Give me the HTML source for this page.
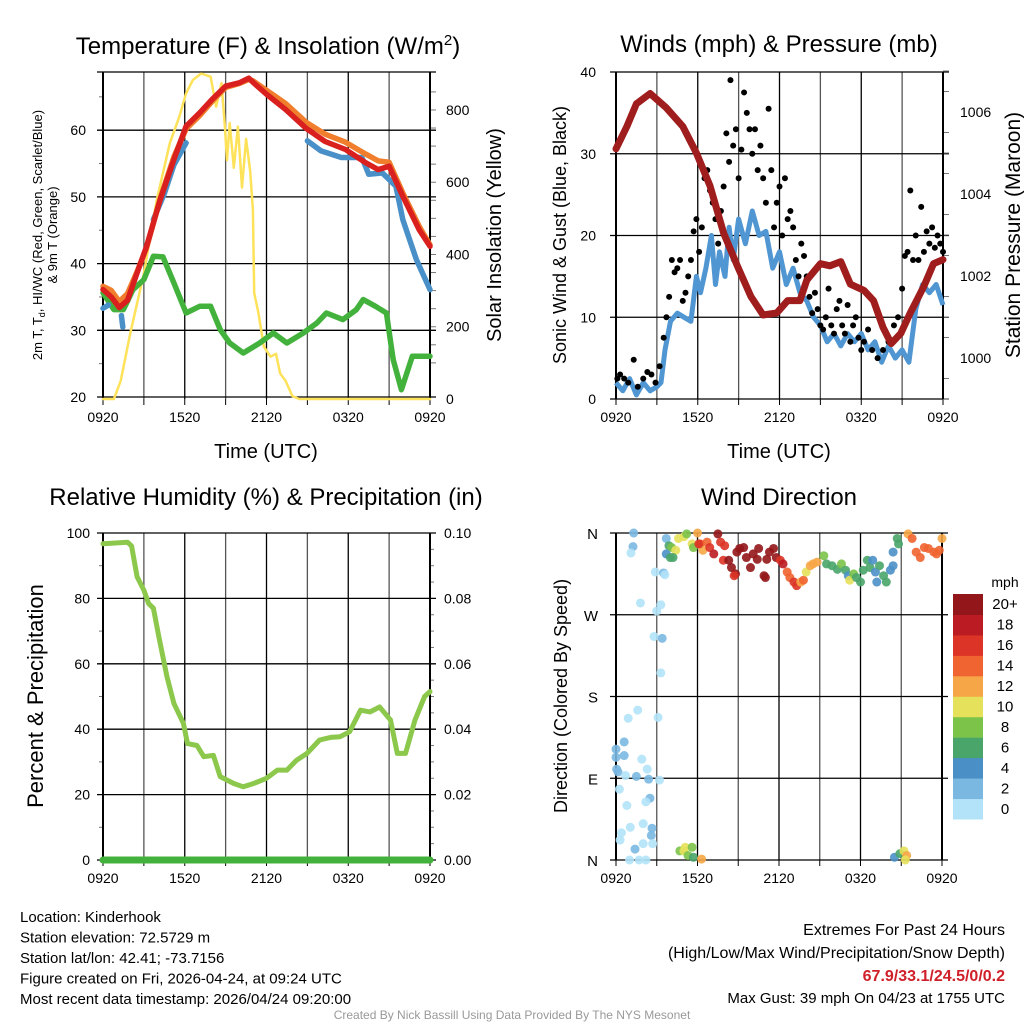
<!DOCTYPE html>
<html><head><meta charset="utf-8"><style>
body{margin:0;background:#fff}
svg{display:block;font-family:"Liberation Sans",Arial,sans-serif}
</style></head><body>
<svg id="c" width="1024" height="1024" viewBox="0 0 1024 1024" xmlns="http://www.w3.org/2000/svg">
<rect width="1024" height="1024" fill="#fff"/>
</svg>
<script>
// ---------- DATA ----------
const xTickLabels = ["0920","1520","2120","0320","0920"];
const tempTicks = [20,30,40,50,60];
const solarTicks = [0,200,400,600,800];
const windTicks = [0,10,20,30,40];
const presTicks = [1000,1002,1004,1006];
const rhTicks = [0,20,40,60,80,100];
const precipTicks = ["0.00","0.02","0.04","0.06","0.08","0.10"];
const dirLabels = ["N","E","S","W","N"];
const speedBinLabels = ["0","2","4","6","8","10","12","14","16","18","20+"];
const speedColors = ["#b3e3f8","#7ab8e2","#4a90c6","#4aa56a","#7cc34a","#e5e15a","#f6a646","#ef6430","#dc3426","#bb1b22","#93161a"];

const redHours = [0,0.6,1.2,1.8,2.5,3.2,4.2,5.2,6.1,7.1,8,9,10,10.7,11,12,13.4,14.9,16.3,17.8,19.3,20.2,21,22,23.2,24];
const redTemps = [36.1,35,33.4,34.5,38.6,42.6,49.6,55.6,60.6,62.6,64.6,66.6,67.1,67.8,67.2,65.4,63.1,60.3,58.3,57.1,55.1,54.1,54.6,50.1,45.1,42.6];
const orangeHours = [0,0.6,1.2,1.8,2.5,3.2,4.2,5.2,6.1,7.1,8,9,10,10.7,11,12,13.4,14.9,16.3,17.8,19.3,20.2,21,22,23.2,24];
const orangeTemps = [36.6,36,34.3,35.5,38.8,42.4,49.8,56,60.2,62.2,64.3,66.4,67,67.6,67.4,66,64,61.2,59.4,58.2,56.4,55.4,55.2,50.6,45.6,42.8];
const blueHours = [0,0.4,0.5,1.35,1.45,1.5,3.7,4.5,5.2,6.1,6.2,15,16,17.5,19,19.5,20.5,21.5,22,23,24];
const blueTemps = [33.3,33.8,null,32.2,30.5,null,46.6,50.5,54.8,58.1,null,58.4,56.9,55.9,55.9,53.4,53.6,51.6,46.6,40.6,36.1];
const greenHours = [0,0.8,1.5,2.2,3,3.7,4.4,5.2,6.1,7.1,7.9,8.6,9.3,10.3,11.5,12.5,13.5,14.7,15.7,16.4,17.6,18.6,19.1,20,20.8,21.3,21.9,22.7,24];
const greenTemps = [35.6,33.1,33.1,36.1,37.6,41.1,41,37.1,32.6,33.6,33.6,30.1,28.1,26.6,28.1,29.6,28.1,29.6,31.1,32.6,31.6,33.1,34.6,33.6,32.6,25.6,21.1,26.1,26.1];
const solarHours = [0,0.8,1.3,2.0,3.0,3.95,4.9,5.6,6.1,6.6,7.2,7.9,8.3,8.7,8.95,9.1,9.3,9.6,9.9,10.2,10.5,10.8,11.0,11.1,11.4,11.8,12.3,12.7,13.0,13.4,13.9,14.4,24];
const solarWatts = [0,0,50,182,348,551,708,781,846,883,901,892,809,874,754,661,764,640,754,585,720,630,523,293,240,145,117,125,71,50,8,0,0];

const windHours = [0,0.5,1,1.5,2,2.5,3,3.3,3.6,4,4.5,5,5.5,5.9,6.2,6.6,7,7.3,7.6,8,8.3,8.6,9,9.5,10,10.5,11,11.5,12,12.5,13,13.5,14,14.5,15,15.5,16,16.5,17,17.5,18,18.5,19,19.5,20,20.5,21,21.5,22,22.5,23,23.5,24];
const windSpeeds = [2,1,2.5,0.5,2,1,1.5,2,6,9.5,10.5,10,9.5,15,13,16,20,14,18,15,21,17,22,19,23,20,20.5,16,18,14,16,13,12,10,9,7,8,6.5,8,7,8,6,7,4.5,6.5,5,6,4.5,11,14,13,14,11.5];
const gustHours = [0.1,0.3,0.6,0.9,1.3,1.6,2.0,2.3,2.6,2.9,3.2,3.5,3.7,3.9,4.1,4.3,4.5,4.7,4.9,5.1,5.3,5.5,5.7,5.9,6.1,6.3,6.5,6.7,6.9,7.1,7.3,7.5,7.7,7.9,8.1,8.3,8.4,8.6,8.8,9.0,9.2,9.4,9.6,9.8,10.0,10.2,10.4,10.6,10.8,11.0,11.2,11.4,11.6,11.8,12.0,12.2,12.4,12.6,12.8,13.0,13.2,13.4,13.6,13.8,14.0,14.2,14.4,14.6,14.8,15.0,15.2,15.4,15.6,15.8,16.0,16.2,16.4,16.6,16.8,17.0,17.2,17.4,17.6,17.8,18.0,18.2,18.5,18.8,19.2,19.6,20.0,20.4,20.7,21.0,21.2,21.4,21.6,21.8,22.0,22.2,22.4,22.6,22.8,23.0,23.2,23.4,23.6,23.8,24.0];
const gustSpeeds = [2.5,3,2.5,2,4.8,1.5,2.5,3.3,3,2,4,7.5,10,12.5,17,15.5,16,17,12,13,15,17,20.5,22,18,21,27,28,25.5,24,22,19,23,26,32.5,29,39,31,33,27,30.5,37.5,35,33,30,33,28,31,27,24,35.5,28,21,24,26,20,27,22,23,21,17,15,19,17.5,15,12.5,10.5,13,11,9,8.5,10,13.5,9,8,11,12,9,8,11.5,7,9,10,7.5,6,7,8.5,6,5,6,7,9,10,13.5,17.5,18,25.5,17,20,17,23.5,18,20.5,19,21,18.5,20,19,18];
const presHours = [0,0.8,1.5,2.5,3.7,4.9,5.9,6.9,7.9,8.9,9.9,10.8,11.8,12.6,13.5,14.0,15.0,15.7,16.5,17.2,18.2,18.9,19.6,20.2,20.9,21.6,22.6,23.3,24];
const presMb = [1005.1,1005.65,1006.2,1006.45,1006.1,1005.65,1005.0,1004.2,1003.05,1002.25,1001.5,1001.05,1001.1,1001.4,1001.4,1001.9,1002.3,1002.25,1002.35,1001.8,1001.65,1001.4,1000.75,1000.35,1000.6,1001.1,1001.75,1002.3,1002.4];

const rhHours = [0,1.8,2.1,2.5,3.0,3.35,3.7,4.1,4.7,5.2,5.9,6.2,6.9,7.4,8.1,8.6,9.6,10.3,11.05,12.0,12.8,13.5,14.2,14.97,15.9,16.7,17.4,18.1,18.9,19.6,20.3,21.1,21.6,22.2,22.9,23.6,24];
const rhValues = [96.7,97.2,96,86.6,82.5,78.4,77,68.2,56,47.9,41.8,35.6,35,31.6,32,25.5,23.4,22.4,23.4,25,27.5,27.5,30.5,32.6,36.7,37.5,37.7,39.2,45.8,45.3,46.8,42.8,32.6,32.6,42.8,50,51.5];
const precipHours = [0,24];
const precipValues = [0,0];

const dirHours = [1.3,1.25,1.1,2.9,3.5,3.6,1.8,3.0,3.3,2.8,3.4,3.3,1.6,0.9,3.1,0.6,0,0,0.6,1.9,0.05,0.15,2.3,0.7,1.5,2.4,3.2,0.25,2.5,2.2,0.8,2.0,1.05,2.65,0.4,0.3,2.6,2.0,1.4,2.7,1.0,1.7,2.2,
3.7,3.9,4.1,4.4,3.7,4.0,4.2,4.6,5.0,5.2,5.6,5.7,6.0,6.2,6.4,
6.1,6.7,6.9,7.2,7.5,7.7,8.0,7.9,8.3,8.5,8.8,8.7,8.9,9.1,9.4,9.6,9.9,10.1,10.4,10.5,10.9,11.0,11.1,11.3,11.6,11.8,12.1,12.3,12.6,12.8,13.1,13.3,13.6,13.8,14.0,14.3,14.5,14.8,
15.3,15.5,15.9,16.3,16.6,16.9,17.1,17.2,17.5,17.7,18.0,18.2,18.5,18.7,18.9,19.1,19.2,19.4,19.7,19.9,20.2,20.4,20.4,20.7,20.8,
21.5,21.8,22.1,22.4,22.7,23.0,23.4,23.6,23.8,24.0,
4.7,5.0,5.1,5.3,5.6,5.7,6.3,20.5,20.9,21.2,21.4,21.3];
const dirDegrees = [360,345,338,317,316,314,283,274,281,246,244,206,165,156,157,130,122,113,115,111,100,97,100,93,92,89,88,78,68,64,60,40,36,35,30,22,27,18,12,18,0,0,0,
354,346,344,341,337,333,333,354,356,359,348,344,360,348,341,
348,350,344,337,359,350,346,330,330,322,315,313,339,343,344,333,322,337,331,343,313,311,331,339,343,333,330,326,317,311,306,302,306,308,317,324,326,328,
335,326,324,320,326,319,313,308,315,311,306,319,330,322,330,317,306,324,313,306,319,324,339,354,348,
359,354,339,333,344,343,339,337,341,354,
10,10,14,5,14,3,1,3,7,10,5,0];
const dirSpeeds = [2,3,1,1,3,1,1,1,1,1,3,1,1,1,1,2,3,3,3,1,3,3,1,1,3,3,0,1,3,1,1,1,1,3,1,1,3,1,3,1,1,1,1,
3,7,8,10,4,6,7,10,10,8,10,8,13,14,13,
16,15,17,18,20,17,16,17,20,20,20,16,20,20,20,20,20,20,20,20,20,20,20,20,20,20,16,18,15,14,16,16,13,14,11,12,13,12,
8,7,6,7,8,6,5,11,8,6,7,6,6,6,4,4,4,6,6,6,4,4,4,6,6,
13,14,14,15,14,15,15,14,14,13,
8,10,11,8,8,6,13,4,6,10,13,10];

// ---------- HELPERS ----------
const svg = document.getElementById('c');
const NS = "http://www.w3.org/2000/svg";
function mk(tag, attrs, parent){
  const e = document.createElementNS(NS, tag);
  for (const k in attrs) e.setAttribute(k, attrs[k]);
  (parent||svg).appendChild(e);
  return e;
}
function txt(x,y,s,size,anchor,extra,parent){
  const t = mk('text',{x:x,y:y,'font-size':size,'text-anchor':anchor||'middle',fill:'#000'},parent);
  if (extra) for (const k in extra) t.setAttribute(k, extra[k]);
  t.textContent = s;
  return t;
}
function pathFrom(xs, ys, fx, fy){
  let d = '', pen = false;
  for (let i=0;i<xs.length;i++){
    if (ys[i]===null){pen=false;continue;}
    d += (pen?'L':'M') + fx(xs[i]).toFixed(1) + ',' + fy(ys[i]).toFixed(1);
    pen = true;
  }
  return d;
}
function panelFrame(g, x0, x1, y0, y1, hLines, hMinor){
  for (let i=0;i<=8;i++){
    const x = x0 + (x1-x0)*i/8;
    const l = mk('line',{x1:x,y1:y0,x2:x,y2:y1,stroke:(i%2?'#555':'#000'),'stroke-width':1.3},g);
    
    
    mk('line',{x1:x,y1:y1,x2:x,y2:y1+6,stroke:'#000','stroke-width':1},g);
  }
  hLines.forEach(y=>{
    const l = mk('line',{x1:x0-6,y1:y,x2:x1+6,y2:y,stroke:'#000','stroke-width':1.3},g);
    
    
  });
  (hMinor||[]).forEach(m=>{
    mk('line',{x1:m[0],y1:m[1],x2:m[0]+m[2],y2:m[1],stroke:'#777','stroke-width':1},g);
  });
  mk('line',{x1:x0,y1:y0,x2:x0,y2:y1,stroke:'#000','stroke-width':2},g);
  mk('line',{x1:x1,y1:y0,x2:x1,y2:y1,stroke:'#000','stroke-width':2},g);
  xTickLabels.forEach((s,i)=>{
    const t = txt(x0+(x1-x0)*i/4, y1+23, s, 14);
    
    
  });
}

// ---------- PANEL 1: TEMPERATURE ----------
(function(){
  const g = mk('g',{});
  
  
  const x0=103,x1=430,y0=72,y1=399;
  const X = h => x0 + h*(x1-x0)/24;
  const YT = t => 397 - (t-20)*6.67;
  const YS = w => 399 - w*0.3613;
  const minors=[];
  for(let t=25;t<70;t+=10) minors.push([x0-4,YT(t),4]);
  for(let w=100;w<900;w+=50) minors.push([x1,YS(w),6]);
  panelFrame(g,x0,x1,y0,y1,tempTicks.map(YT).concat([y0]),minors);
  tempTicks.forEach(t=>{const e=txt(x0-17,YT(t)+5,String(t),14,'end',null,g);});
  solarTicks.forEach(w=>{const e=txt(x1+16,YS(w)+5,String(w),14,'start',null,g);});
  const series = [
    [solarHours,solarWatts,YS,'#fde25a',2.5,'solar-insolation-line'],
    [greenHours,greenTemps,YT,'#43b23c',5.5,'dewpoint-line'],
    [blueHours,blueTemps,YT,'#4a90c8',5.5,'windchill-line'],
    [orangeHours,orangeTemps,YT,'#f07e2c',5.5,'temp-9m-line'],
    [redHours,redTemps,YT,'#d9201f',5.5,'temp-2m-line']
  ];
  series.forEach(s=>{
    const p = mk('path',{d:pathFrom(s[0],s[1],X,s[2]),fill:'none',stroke:s[3],'stroke-width':s[4],'stroke-linejoin':'round','stroke-linecap':'round'},g);
    
    
  });
  const t1=txt(268,54,'',24,'middle',null,g);
  t1.innerHTML='Temperature (F) &amp; Insolation (W/m<tspan dy="-9" font-size="15">2</tspan><tspan dy="9">)</tspan>';
  
  
  const xl=txt(266,458,'Time (UTC)',20,'middle',null,g);
  
  
  const yl=txt(0,0,'',13,'middle',{transform:'translate(42,235) rotate(-90)'},g);
  yl.innerHTML='2m T, T<tspan dy="3" font-size="9">d</tspan><tspan dy="-3">, HI/WC (Red, Green, Scarlet/Blue)</tspan>';
  
  
  const yl2=txt(0,0,'& 9m T (Orange)',13,'middle',{transform:'translate(57,235) rotate(-90)'},g);
  
  
  const yr=txt(0,0,'Solar Insolation (Yellow)',20,'middle',{transform:'translate(501,235) rotate(-90)'},g);
  
  
})();

// ---------- PANEL 2: WINDS ----------
(function(){
  const g = mk('g',{});
  
  
  const x0=616,x1=943,y0=72,y1=399;
  const X = h => x0 + h*(x1-x0)/24;
  const YW = s => 399 - s*8.175;
  const YP = p => 358 - (p-1000)*41;
  const minors=[];
  for(let p=999;p<=1007;p+=0.5) if(p%2!==0) minors.push([x1,YP(p),6]);
  panelFrame(g,x0,x1,y0,y1,windTicks.map(YW),minors);
  windTicks.forEach(s=>{const e=txt(x0-20,YW(s)+5,String(s),14,'end',null,g);});
  presTicks.forEach(p=>{const e=txt(x1+17,YP(p)+5,String(p),14,'start',null,g);});
  const w = mk('path',{d:pathFrom(windHours,windSpeeds,X,YW),fill:'none',stroke:'#4f96d2','stroke-width':5,'stroke-linejoin':'round'},g);
  
  
  gustHours.forEach((h,i)=>{
    const c = mk('circle',{cx:X(h),cy:YW(gustSpeeds[i]),r:3,fill:'#000'},g);
    
    
  });
  const p = mk('path',{d:pathFrom(presHours,presMb,X,YP),fill:'none',stroke:'#a01d1d','stroke-width':7,'stroke-linejoin':'round','stroke-linecap':'round'},g);
  
  
  const t=txt(779,52,'Winds (mph) & Pressure (mb)',24,'middle',null,g);
  
  const xl=txt(779,458,'Time (UTC)',20,'middle',null,g);
  
  const yl=txt(0,0,'Sonic Wind & Gust (Blue, Black)',18,'middle',{transform:'translate(566,235) rotate(-90)'},g);
  
  const yr=txt(0,0,'Station Pressure (Maroon)',21,'middle',{transform:'translate(1020,235) rotate(-90)'},g);
  
})();

// ---------- PANEL 3: RH ----------
(function(){
  const g = mk('g',{});
  
  
  const x0=103,x1=430,y0=533,y1=860;
  const X = h => x0 + h*(x1-x0)/24;
  const YR = r => 860 - r*3.27;
  const minors=[];
  for(let r=10;r<100;r+=20){minors.push([x0-4,YR(r),4]);}
  for(let r=5;r<100;r+=5) if(r%20!==0) minors.push([x1,YR(r),4]);
  panelFrame(g,x0,x1,y0,y1,rhTicks.map(YR),minors);
  rhTicks.forEach(r=>{const e=txt(x0-13,YR(r)+5,String(r),14,'end',null,g);});
  precipTicks.forEach((s,i)=>{const e=txt(x1+14,YR(rhTicks[i])+5,s,14,'start',null,g);});
  const YPr = v => YR(v*1000);
  const pr = mk('path',{d:pathFrom(precipHours,precipValues,X,YPr),fill:'none',stroke:'#43b23c','stroke-width':7,'stroke-linecap':'round'},g);
  
  const rh = mk('path',{d:pathFrom(rhHours,rhValues,X,YR),fill:'none',stroke:'#8cc84b','stroke-width':5,'stroke-linejoin':'round','stroke-linecap':'round'},g);
  
  const t=txt(266,505,'Relative Humidity (%) & Precipitation (in)',24,'middle',null,g);
  
  const yl=txt(0,0,'Percent & Precipitation',22,'middle',{transform:'translate(43,696) rotate(-90)'},g);
  
})();

// ---------- PANEL 4: WIND DIRECTION ----------
(function(){
  const g = mk('g',{});
  
  
  const x0=616,x1=942,y0=533,y1=860;
  const X = h => x0 + h*(x1-x0)/24;
  const YD = d => 860 - d*327/360;
  panelFrame(g,x0,x1,y0,y1,[0,90,180,270,360].map(YD),[]);
  dirLabels.forEach((s,i)=>{const e=txt(x0-18,YD(i*90)+6,s,15,'end',null,g);});
  dirHours.forEach((h,i)=>{
    const bin = Math.min(10, Math.floor(dirSpeeds[i]/2));
    const c = mk('circle',{cx:X(h),cy:YD(dirDegrees[i]),r:4.5,fill:speedColors[bin],'fill-opacity':0.9},g);
    
    
  });
  const t=txt(779,505,'Wind Direction',24,'middle',null,g);
  
  const yl=txt(0,0,'Direction (Colored By Speed)',18,'middle',{transform:'translate(567,696) rotate(-90)'},g);
  
  const cb = mk('g',{},g);
  
  
  const h = 225/11;
  speedBinLabels.forEach((s,i)=>{
    const y = 594 + (10-i)*h;
    const r = mk('rect',{x:953,y:y,width:30,height:h+0.5,fill:speedColors[i]},cb);
    
    
    const e = txt(1005,y+h/2+5,s,15,'middle',null,cb);
    
    
  });
  const m = txt(1005,587,'mph',14,'middle',null,cb);
  
})();

// ---------- FOOTER TEXT ----------
(function(){
  const g = mk('g',{});
  
  
  const lines = ["Location: Kinderhook","Station elevation: 72.5729 m","Station lat/lon: 42.41; -73.7156","Figure created on Fri, 2026-04-24, at 09:24 UTC","Most recent data timestamp: 2026/04/24 09:20:00"];
  lines.forEach((s,i)=>{const e=txt(20,922+i*20.5,s,15,'start',null,g);});
  const g2 = mk('g',{});
  
  
  const a=txt(1005,935,'Extremes For Past 24 Hours',16,'end',null,g2);
  const b=txt(1005,958,'(High/Low/Max Wind/Precipitation/Snow Depth)',16,'end',null,g2);
  const c=txt(1005,981,'67.9/33.1/24.5/0/0.2',16,'end',{fill:'#d0202a','font-weight':'bold'},g2);
  const d=txt(1005,1003,'Max Gust: 39 mph On 04/23 at 1755 UTC',15,'end',null,g2);
  const f=txt(512,1019,'Created By Nick Bassill Using Data Provided By The NYS Mesonet',12,'middle',{fill:'#999'});
  
})();
</script>
</body></html>
